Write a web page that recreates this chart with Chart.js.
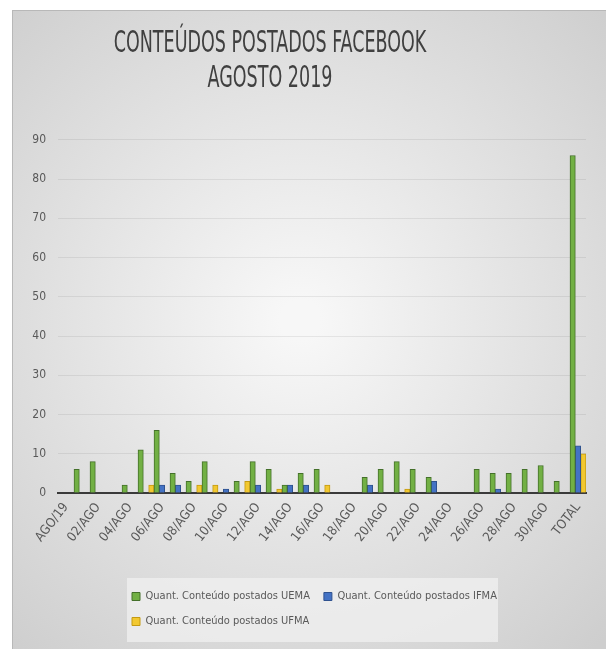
<!DOCTYPE html>
<html><head><meta charset="utf-8">
<script src="https://cdn.jsdelivr.net/npm/chart.js@4.4.1/dist/chart.umd.min.js"></script>
<style>html,body{margin:0;padding:0;background:#fff;}#wrap{width:606px;height:649px;}</style>
</head><body><div id="wrap"><canvas id="c" width="606" height="649"></canvas></div>
<script>
const categories = ['AGO/19','01/AGO','02/AGO','03/AGO','04/AGO','05/AGO','06/AGO','07/AGO','08/AGO','09/AGO','10/AGO','11/AGO','12/AGO','13/AGO','14/AGO','15/AGO','16/AGO','17/AGO','18/AGO','19/AGO','20/AGO','21/AGO','22/AGO','23/AGO','24/AGO','25/AGO','26/AGO','27/AGO','28/AGO','29/AGO','30/AGO','31/AGO','TOTAL'];
const uemaValues = [0,6,8,0,2,11,16,5,3,8,0,3,8,6,2,5,6,0,0,4,6,8,6,4,0,0,6,5,5,6,7,3,86];
const ifmaValues = [0,0,0,0,0,0,2,2,0,0,1,0,2,0,2,2,0,0,0,2,0,0,0,3,0,0,0,1,0,0,0,0,12];
const ufmaValues = [0,0,0,0,0,2,0,0,2,2,0,3,0,1,0,0,2,0,0,0,0,1,0,0,0,0,0,0,0,0,0,0,10];
const seriesNames = ['Quant. Conteúdo postados UEMA','Quant. Conteúdo postados IFMA','Quant. Conteúdo postados UFMA'];
const titleLines = ['CONTEÚDOS POSTADOS FACEBOOK','AGOSTO 2019'];
const yMax = 90, yStep = 10;

const FONT = "'Liberation Sans Narrow','DejaVu Sans Condensed','Arial Narrow',sans-serif";
const LEGEND_X = 118, LEGEND_W = 400;
const TITLE_DX = -33, TITLE_CY = 62.5, TITLE_SY = 1.5;

const helper = {
  id: 'helper',
  afterInit(chart) {
    const lg = chart.legend;
    const origFit = lg.fit;
    lg.fit = function () {
      const mw = this.maxWidth;
      this.maxWidth = LEGEND_W;
      origFit.call(this);
      this.maxWidth = mw;
      if (this.isHorizontal()) this.width = mw;
    };
    const tb = chart.titleBlock;
    const origDraw = tb.draw;
    tb.draw = function () {
      const c = this.ctx;
      c.save();
      c.translate(TITLE_DX, TITLE_CY);
      c.scale(1, TITLE_SY);
      c.translate(0, -TITLE_CY);
      origDraw.call(this);
      c.restore();
    };
  },
  afterLayout(chart) {
    const lg = chart.legend;
    lg.left = LEGEND_X;
    lg.right = LEGEND_X + LEGEND_W;
  },
  beforeDraw(chart) {
    const ctx = chart.ctx;
    ctx.save();
    ctx.fillStyle = '#ffffff';
    ctx.fillRect(0, 0, chart.width, chart.height);
    const g = ctx.createRadialGradient(300, 320, 20, 300, 320, 440);
    g.addColorStop(0, '#f7f7f7');
    g.addColorStop(1, '#cecece');
    ctx.fillStyle = g;
    ctx.fillRect(12, 10, chart.width - 12, chart.height - 10);
    ctx.strokeStyle = '#b8b8b8';
    ctx.lineWidth = 1;
    ctx.strokeRect(12.5, 10.5, chart.width, chart.height);
    const lg = chart.legend;
    ctx.fillStyle = 'rgba(240,240,240,0.75)';
    ctx.fillRect(lg.left + 9, lg.top + 1, 371, 64);
    ctx.restore();
  }
};

new Chart(document.getElementById('c'), {
  type: 'bar',
  data: {
    labels: categories,
    datasets: [
      { label: seriesNames[0], data: uemaValues, backgroundColor: '#72B044', borderColor: '#44702A', borderWidth: 1 },
      { label: seriesNames[1], data: ifmaValues, backgroundColor: '#4472C4', borderColor: '#2F528F', borderWidth: 1 },
      { label: seriesNames[2], data: ufmaValues, backgroundColor: '#F2C830', borderColor: '#C49A12', borderWidth: 1 }
    ]
  },
  options: {
    responsive: false,
    animation: false,
    devicePixelRatio: 1,
    layout: { padding: { left: 20, right: 20, top: 10, bottom: 12 } },
    datasets: { bar: { categoryPercentage: 1.0, barPercentage: 1.0 } },
    plugins: {
      tooltip: { enabled: false },
      title: {
        display: true,
        text: titleLines,
        color: '#404040',
        font: { family: FONT, size: 19.5, weight: 'normal', lineHeight: 1.2 },
        padding: { top: 29, bottom: 54 }
      },
      legend: {
        position: 'bottom',
        align: 'start',
        labels: {
          color: '#595959',
          font: { family: FONT, size: 11 },
          boxWidth: 8, boxHeight: 8, padding: 14
        }
      }
    },
    scales: {
      x: {
        grid: { display: false, drawTicks: false },
        border: { display: true, color: '#3a3a3a', width: 2 },
        ticks: {
          autoSkip: false, minRotation: 52, maxRotation: 52, padding: 7,
          color: '#595959', font: { family: FONT, size: 13 },
          callback: function (v, i) { return i % 2 === 0 ? categories[i] : ''; }
        },
        afterFit: function (s) { s.height = 84; }
      },
      y: {
        min: 0, max: yMax,
        grid: { color: 'rgba(0,0,0,0.07)', drawTicks: false },
        border: { display: false },
        ticks: { stepSize: yStep, padding: 12, color: '#595959', font: { family: FONT, size: 12 } },
        afterFit: function (s) { s.width = 38; }
      }
    }
  },
  plugins: [helper]
});
</script>
</body></html>
